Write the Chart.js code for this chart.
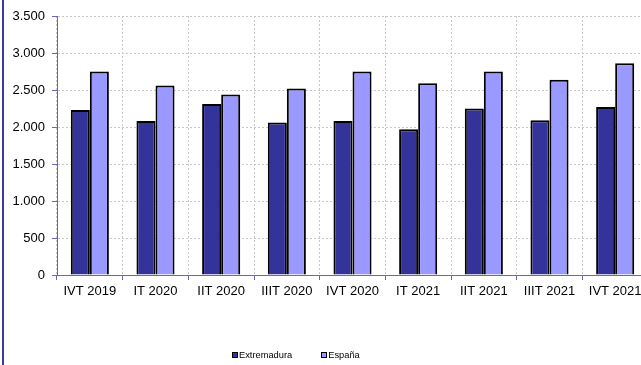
<!DOCTYPE html>
<html>
<head>
<meta charset="utf-8">
<script src="https://cdn.jsdelivr.net/npm/chart.js@4"></script>
<style>
  html, body { margin: 0; padding: 0; background: #fff; overflow: hidden; width: 641px; height: 365px; }
  #wrap { position: absolute; left: 0; top: 0; width: 660px; height: 365px; }
  #edge { position: absolute; left: 2px; top: 0; width: 2px; height: 365px; background: #3c3ca0; }
  #legend { position: absolute; top: 350px; left: 232px; font-family: "Liberation Sans", Arial, sans-serif; font-size: 9.3px; color: #000; white-space: nowrap; }
  #legend span.item { display: inline-block; margin-right: 29px; }
  #legend span.box { display: inline-block; width: 4px; height: 4px; border: 1px solid #000; vertical-align: 0px; margin-right: 1px; }
</style>
</head>
<body>
<div id="wrap"><canvas id="barChart"></canvas></div>
<div id="edge"></div>
<div id="legend"></div>
<script>
// data
var categories = ['IVT 2019', 'IT 2020', 'IIT 2020', 'IIIT 2020', 'IVT 2020', 'IT 2021', 'IIT 2021', 'IIIT 2021', 'IVT 2021'];
var extremadura = [2230, 2080, 2310, 2060, 2080, 1970, 2250, 2090, 2270];
var espana = [2750, 2560, 2440, 2520, 2750, 2590, 2750, 2640, 2860];
var yTicks = { min: 0, max: 3500, step: 500 };

var font = { family: '"Liberation Sans", Arial, sans-serif', size: 13 };

function miles(v) {
    return String(v).replace(/\B(?=(\d{3})+(?!\d))/g, '.');
}

var datasets = [
    { label: 'Extremadura', data: extremadura, backgroundColor: '#333399', borderColor: '#000', borderWidth: 2 },
    { label: 'España', data: espana, backgroundColor: '#9999ff', borderColor: '#000', borderWidth: 2 }
];

var ctx = document.getElementById('barChart').getContext('2d');
var barChart = new Chart(ctx, {
    type: 'bar',
    data: { labels: categories, datasets: datasets },
    options: {
        responsive: true,
        maintainAspectRatio: false,
        animation: false,
        layout: { padding: { top: 16, right: 12, left: 0, bottom: 0 } },
        datasets: { bar: { categoryPercentage: 0.58, barPercentage: 1 } },
        plugins: { legend: { display: false }, tooltip: { enabled: false } },
        scales: {
            x: {
                grid: { color: '#c8c8c8', tickColor: '#6666bb', tickLength: 5, offset: true },
                border: { color: '#6666bb', width: 1, dash: [2, 2] },
                ticks: { color: '#000', font: font, padding: 4, maxRotation: 0 },
                afterFit: function (s) { s.height = 90; }
            },
            y: {
                min: yTicks.min,
                max: yTicks.max,
                grid: { color: '#c8c8c8', tickColor: '#6666bb', tickLength: 5 },
                border: { color: '#6666bb', width: 1, dash: [2, 2] },
                ticks: { stepSize: yTicks.step, color: '#000', font: font, padding: 7, callback: function (v) { return miles(v); } },
                afterFit: function (s) { s.width = 57; }
            }
        }
    }
});

// legend as html text
var legend = document.getElementById('legend');
datasets.forEach(function (d) {
    var item = document.createElement('span');
    item.className = 'item';
    var box = document.createElement('span');
    box.className = 'box';
    box.style.background = d.backgroundColor;
    item.appendChild(box);
    item.appendChild(document.createTextNode(d.label));
    legend.appendChild(item);
});
</script>
</body>
</html>
